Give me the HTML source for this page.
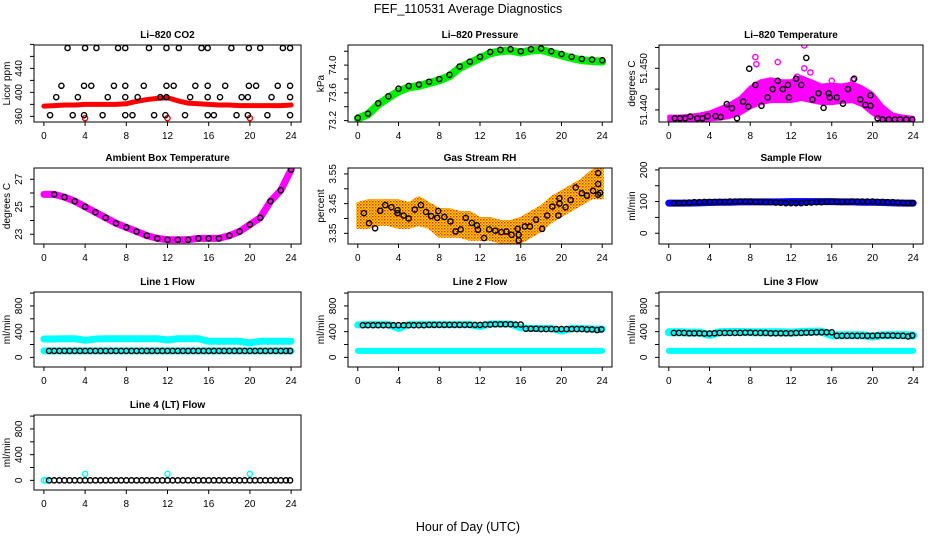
<!DOCTYPE html>
<html><head><meta charset="utf-8">
<style>
html,body{margin:0;padding:0;background:#fff;}
svg{display:block;font-family:"Liberation Sans",Arial,sans-serif;}
</style></head>
<body>
<svg id="chart" width="936" height="540" viewBox="0 0 936 540" xmlns="http://www.w3.org/2000/svg">
<defs>
<pattern id="rhpat" width="3" height="3" patternUnits="userSpaceOnUse">
<rect width="3" height="3" fill="#ffe000"/><rect width="1.5" height="1.5" fill="#ff2000"/><rect x="1.5" y="1.5" width="1.5" height="1.5" fill="#ff8000"/>
</pattern>
</defs>
<text x="468" y="13" text-anchor="middle" font-size="12.5">FEF_110531  Average Diagnostics</text>
<text x="468" y="531" text-anchor="middle" font-size="12.5">Hour of Day (UTC)</text>
</svg>
<script>
const H25=[0,1,2,3,4,5,6,7,8,9,10,11,12,13,14,15,16,17,18,19,20,21,22,23,24];
const H48=[0.5,1,1.5,2,2.5,3,3.5,4,4.5,5,5.5,6,6.5,7,7.5,8,8.5,9,9.5,10,10.5,11,11.5,12,12.5,13,13.5,14,14.5,15,15.5,16,16.5,17,17.5,18,18.5,19,19.5,20,20.5,21,21.5,22,22.5,23,23.5,23.9];
const xTicks=[0,4,8,12,16,20,24];

// CO2
const co2BlackH=[2.3,4.0,5.1,7.2,7.9,10.2,11.9,13.1,15.3,15.9,18.2,19.9,21.0,23.2,23.9,1.7,3.9,4.6,6.8,7.9,9.7,11.9,12.6,14.7,15.9,17.6,19.9,20.6,22.7,23.9,1.2,3.3,6.2,7.9,9.1,11.3,11.9,14.2,15.9,17.1,19.2,19.8,22.1,23.9,0.6,2.8,3.9,5.7,7.9,8.6,10.7,11.8,13.7,15.9,16.5,18.7,19.8,21.7,23.9];
const co2BlackV=[474,474,474,474,474,474,474,474,474,474,474,474,474,474,474,411,411,411,411,411,411,411,411,411,411,411,411,411,411,411,392,392,392,392,392,392,392,392,392,392,392,392,392,392,362,362,362,362,362,362,362,362,362,362,362,362,362,362,362];
const co2Red=[377,378,379,379,380,380,380,380,381,385,388,390,391,386,382,381,380,379,379,378,378,378,378,378,379];
const co2RedOutH=[4,12,20];
const co2RedOutV=[357,357,357];
// Pressure
const presGreen=[73.23,73.29,73.43,73.53,73.62,73.68,73.70,73.74,73.78,73.84,73.96,74.03,74.10,74.17,74.20,74.21,74.18,74.21,74.22,74.18,74.14,74.10,74.07,74.06,74.05];
const presBlack=[73.24,73.30,73.45,73.55,73.66,73.70,73.72,73.76,73.80,73.86,73.98,74.05,74.12,74.19,74.22,74.23,74.20,74.23,74.24,74.20,74.16,74.12,74.09,74.08,74.07];
// Li-820 temperature
const tLow=[51.4372,51.4372,51.4373,51.4374,51.4376,51.4378,51.4382,51.4390,51.4405,51.4415,51.4420,51.4420,51.4420,51.4425,51.4420,51.4415,51.4415,51.4418,51.4420,51.4410,51.4390,51.4375,51.4372,51.4372,51.4372];
const tHigh=[51.4385,51.4385,51.4387,51.4390,51.4395,51.4405,51.4415,51.4430,51.4455,51.4470,51.4475,51.4470,51.4470,51.4480,51.4470,51.4460,51.4462,51.4460,51.4465,51.4455,51.4440,51.4410,51.4390,51.4385,51.4382];
const tOutH=[8.5,8.6,10.7,13.3,13.3,13.9,12.6,16.0,18.1];
const tOutV=[51.4527,51.4510,51.4515,51.4555,51.4500,51.4490,51.4480,51.4470,51.4472];
const tBlackH=[0.6,1.1,1.6,2.1,2.8,3.3,3.8,4.6,5.1,5.7,6.2,6.7,7.3,7.8,7.9,8.5,9.1,9.7,10.2,10.7,11.2,11.7,11.8,12.5,13.0,13.5,14.1,14.7,15.2,15.7,15.8,16.5,17.1,17.6,18.2,18.8,19.3,19.8,19.8,20.5,21,21.6,22.2,22.7,23.3,23.9];
const tBlackV=[51.438,51.438,51.438,51.4384,51.438,51.438,51.4385,51.4385,51.4383,51.4414,51.4404,51.438,51.442,51.4408,51.4499,51.446,51.441,51.443,51.445,51.447,51.445,51.446,51.443,51.4475,51.446,51.4525,51.4425,51.444,51.4405,51.444,51.443,51.443,51.4415,51.445,51.4475,51.4425,51.4412,51.441,51.4435,51.438,51.4377,51.4377,51.4377,51.4377,51.4377,51.4377];
// Ambient
const ambMag=[25.9,25.9,25.7,25.4,25.0,24.6,24.2,23.8,23.5,23.2,22.9,22.7,22.6,22.6,22.6,22.7,22.7,22.7,22.9,23.2,23.7,24.2,25.4,26.2,27.7];
// RH
const rhLow=[3.37,3.37,3.38,3.38,3.37,3.37,3.38,3.37,3.34,3.34,3.34,3.33,3.33,3.33,3.32,3.32,3.32,3.34,3.36,3.39,3.41,3.43,3.45,3.47,3.47];
const rhHigh=[3.45,3.46,3.46,3.46,3.46,3.45,3.47,3.45,3.43,3.43,3.42,3.42,3.40,3.40,3.39,3.39,3.40,3.42,3.44,3.47,3.49,3.51,3.53,3.56,3.57];
const rhBlackH=[0.6,1.1,1.7,2.2,2.7,3.3,3.9,3.9,4.5,5.0,5.6,6.2,6.7,7.2,7.8,7.9,8.5,9.1,9.6,10.1,10.6,11.2,11.7,11.8,12.4,12.9,13.5,14.1,14.6,15.1,15.7,15.8,15.8,16.4,16.9,17.5,18.1,18.6,19.1,19.7,19.8,19.8,20.4,20.9,21.4,22.0,22.5,23.1,23.6,23.6,23.6,23.8];
const rhBlackV=[3.418,3.384,3.367,3.426,3.445,3.438,3.428,3.418,3.41,3.40,3.43,3.445,3.422,3.408,3.402,3.425,3.405,3.39,3.356,3.363,3.402,3.385,3.377,3.362,3.334,3.363,3.359,3.354,3.356,3.345,3.365,3.345,3.326,3.373,3.373,3.396,3.365,3.41,3.44,3.41,3.45,3.468,3.438,3.462,3.504,3.485,3.477,3.493,3.553,3.516,3.48,3.486];
// Sample flow
const sfBlue=[95,95,95,96,97,98,98,99,99,99,99,99,100,100,100,100,100,99,99,98,98,97,96,95,95];
// Line flows
const l1Upper=[285,285,290,290,265,285,290,290,290,290,290,290,270,290,290,290,250,250,250,250,225,250,250,250,250];
const l2Upper=[505,510,510,510,450,510,510,510,510,510,510,510,480,520,520,520,460,450,450,450,410,450,450,440,440];
const l3Upper=[390,390,385,385,350,390,395,395,390,390,390,390,385,395,400,400,345,345,345,345,325,345,345,345,340];
const lowerCyan=[100,100,100,100,100,100,100,100,100,100,100,100,100,100,100,100,100,100,100,100,100,100,100,100,100];
const l1Black=[100,100,100,100,100,100,100,100,100,100,100,100,100,100,100,100,100,100,100,100,100,100,100,100,100,100,100,100,100,100,100,100,100,100,100,100,100,100,100,100,100,100,100,100,100,100,100,100];
const l2Black=[500,500,500,500,500,500,500,500,500,500,500,500,500,505,505,505,505,505,505,505,505,505,505,505,510,510,515,515,515,515,510,510,445,445,445,440,440,440,440,440,440,440,440,440,435,435,425,435];
const l3Black=[380,380,380,375,375,375,370,370,375,380,380,380,380,380,385,385,380,380,380,375,375,375,375,375,380,380,385,385,390,390,390,390,335,335,335,335,335,335,335,335,340,340,340,340,335,335,325,340];
const l4Black=[0,0,0,0,0,0,0,0,0,0,0,0,0,0,0,0,0,0,0,0,0,0,0,0,0,0,0,0,0,0,0,0,0,0,0,0,0,0,0,0,0,0,0,0,0,0,0,0];
const l4CyanH=[0,0.2,4,12,20];
const l4CyanV=[0,0,100,100,100];

const NS='http://www.w3.org/2000/svg';
const svg=document.getElementById('chart');
const COLS=[{L:34,R:301},{L:348,R:612},{L:659,R:923}];
const ROWS=[{T:45,B:122},{T:168,B:244},{T:292,B:367},{T:415,B:490}];
function mk(tag,attrs,parent){const e=document.createElementNS(NS,tag);for(const k in attrs)e.setAttribute(k,attrs[k]);(parent||svg).appendChild(e);return e;}

function panel(name,col,row,title,ylab,ymin,ymax,ticks){
  const c=COLS[col],r=ROWS[row];
  const g=mk('g',{});
  
  
  const sx=h=>c.L+(h+0.96)/25.92*(c.R-c.L);
  const sy=v=>r.B-(v-ymin)/(ymax-ymin)*(r.B-r.T);
  const t=mk('text',{x:(c.L+c.R)/2,y:r.T-7,'text-anchor':'middle','font-size':'10','font-weight':'bold'},g);
  t.textContent=title;
  
  
  const yl=mk('text',{transform:`translate(${c.L-24},${(r.T+r.B)/2}) rotate(-90)`,'text-anchor':'middle','font-size':'10'},g);
  yl.textContent=ylab;
  
  
  const xa=mk('g',{},g);
  
  
  xTicks.forEach(h=>{
    mk('line',{x1:sx(h),x2:sx(h),y1:r.B,y2:r.B+4,stroke:'#000','stroke-width':1},xa);
    const tx=mk('text',{x:sx(h),y:r.B+17,'text-anchor':'middle','font-size':'10'},xa);
    tx.textContent=String(h);
  });
  const ya=mk('g',{},g);
  
  
  ticks.forEach(v=>{
    mk('line',{x1:c.L-4,x2:c.L,y1:sy(v),y2:sy(v),stroke:'#000','stroke-width':1},ya);
  });
  const plot=mk('g',{},g);
  
  
  const clip='clip'+col+row;
  const cp=mk('clipPath',{id:clip},g);mk('rect',{x:c.L,y:r.T,width:c.R-c.L,height:r.B-r.T},cp);
  plot.setAttribute('clip-path',`url(#${clip})`);
  const box=mk('rect',{x:c.L,y:r.T,width:c.R-c.L,height:r.B-r.T,fill:'none',stroke:'#000','stroke-width':1},g);
  
  
  return {sx,sy,plot};
}
function band(p,name,hs,vs,color,w){
  const pl=mk('polyline',{points:hs.map((h,i)=>p.sx(h)+','+p.sy(vs[i])).join(' '),fill:'none',stroke:color,'stroke-width':w,'stroke-linejoin':'round','stroke-linecap':'round'},p.plot);
  
  
}
function area(p,name,hs,lo,hi,fill){
  const pts=hs.map((h,i)=>p.sx(h)+','+p.sy(hi[i])).concat(hs.slice().reverse().map((h,j)=>p.sx(h)+','+p.sy(lo[hs.length-1-j])));
  const pg=mk('polygon',{points:pts.join(' '),fill:fill,stroke:fill,'stroke-width':3,'stroke-linejoin':'round'},p.plot);
  
  
}
function pts(p,name,hs,vs,color,filled){
  const g=mk('g',{},p.plot);
  
  
  hs.forEach((h,i)=>{
    const c=mk('circle',{cx:p.sx(h),cy:p.sy(vs[i]),r:2.6,fill:filled?color:'none',stroke:color,'stroke-width':1.4},g);
    
    
  });
}
function mkPanel(name,col,row,title,ylab,ymin,ymax,ticks,labVals,fmt){
  const p=panel(name,col,row,title,ylab,ymin,ymax,ticks);
  const c=COLS[col];
  labVals.forEach(v=>{
    const tx=mk('text',{transform:`translate(${c.L-12},${p.sy(v)}) rotate(-90)`,'text-anchor':'middle','font-size':'10'});
    tx.textContent=fmt(v);
    
    
  });
  return p;
}
const f0=v=>String(v);
let p;
p=mkPanel('co2',0,0,'Li\u2013820 CO2','Licor ppm',350.6,479,[360,380,400,420,440,460,480],[360,400,440],f0);
band(p,'co2-red-series',H25,co2Red,'#ff0000',5);
pts(p,'co2-red-outliers',co2RedOutH,co2RedOutV,'#ff0000');
pts(p,'co2-black-series',co2BlackH,co2BlackV,'#000');

p=mkPanel('pressure',1,0,'Li\u2013820 Pressure','kPa',73.18,74.29,[73.2,73.4,73.6,73.8,74.0,74.2],[73.2,73.6,74.0],v=>v.toFixed(1));
band(p,'pressure-green-series',H25,presGreen,'#00ee00',8);
pts(p,'pressure-black-series',H25,presBlack,'#000');

p=mkPanel('li820-temp',2,0,'Li\u2013820 Temperature','degrees C',51.4371,51.4556,[51.440,51.445,51.450,51.455],[51.440,51.450],v=>v.toFixed(3));
area(p,'temp-magenta-series',H25,tLow,tHigh,'#ff00ff');
pts(p,'temp-magenta-outliers',tOutH,tOutV,'#ff00ff');
pts(p,'temp-black-series',tBlackH,tBlackV,'#000');

p=mkPanel('ambient-temp',0,1,'Ambient Box Temperature','degrees C',22.29,27.82,[23,24,25,26,27],[23,25,27],f0);
band(p,'ambient-magenta-series',H25,ambMag,'#ff00ff',7);
pts(p,'ambient-black-series',H25.slice(1),ambMag.slice(1),'#000');

p=mkPanel('rh',1,1,'Gas Stream RH','percent',3.314,3.570,[3.35,3.40,3.45,3.50,3.55],[3.35,3.45,3.55],v=>v.toFixed(2));
area(p,'rh-orange-series',H25,rhLow,rhHigh,'url(#rhpat)');
pts(p,'rh-black-series',rhBlackH,rhBlackV,'#000');

p=mkPanel('sample-flow',2,1,'Sample Flow','ml/min',-34,206,[0,50,100,150,200],[0,100,200],f0);
band(p,'sample-flow-blue-series',H25,sfBlue,'#0000ff',7);
pts(p,'sample-flow-black-series',H48,sfBlue.slice(1).concat(sfBlue.slice(1)).slice(0,48),'#000');

const fT=[0,200,400,600,800,1000],fL=[0,400,800];
p=mkPanel('line1-flow',0,2,'Line 1 Flow','ml/min',-150,1017,fT,fL,f0);
band(p,'line1-cyan-upper',H25,l1Upper,'#00ffff',7);
band(p,'line1-cyan-lower',H25,lowerCyan,'#00ffff',7);
pts(p,'line1-black-series',H48,l1Black,'#000');

p=mkPanel('line2-flow',1,2,'Line 2 Flow','ml/min',-150,1017,fT,fL,f0);
band(p,'line2-cyan-upper',H25,l2Upper,'#00ffff',7);
band(p,'line2-cyan-lower',H25,lowerCyan,'#00ffff',6);
pts(p,'line2-black-series',H48,l2Black,'#000');

p=mkPanel('line3-flow',2,2,'Line 3 Flow','ml/min',-150,1017,fT,fL,f0);
band(p,'line3-cyan-upper',H25,l3Upper,'#00ffff',8);
band(p,'line3-cyan-lower',H25,lowerCyan,'#00ffff',6);
pts(p,'line3-black-series',H48,l3Black,'#000');

p=mkPanel('line4-flow',0,3,'Line 4 (LT) Flow','ml/min',-150,1017,fT,fL,f0);
pts(p,'line4-cyan-series',l4CyanH,l4CyanV,'#00ffff');
pts(p,'line4-black-series',H48,l4Black,'#000');
</script>
</body></html>
